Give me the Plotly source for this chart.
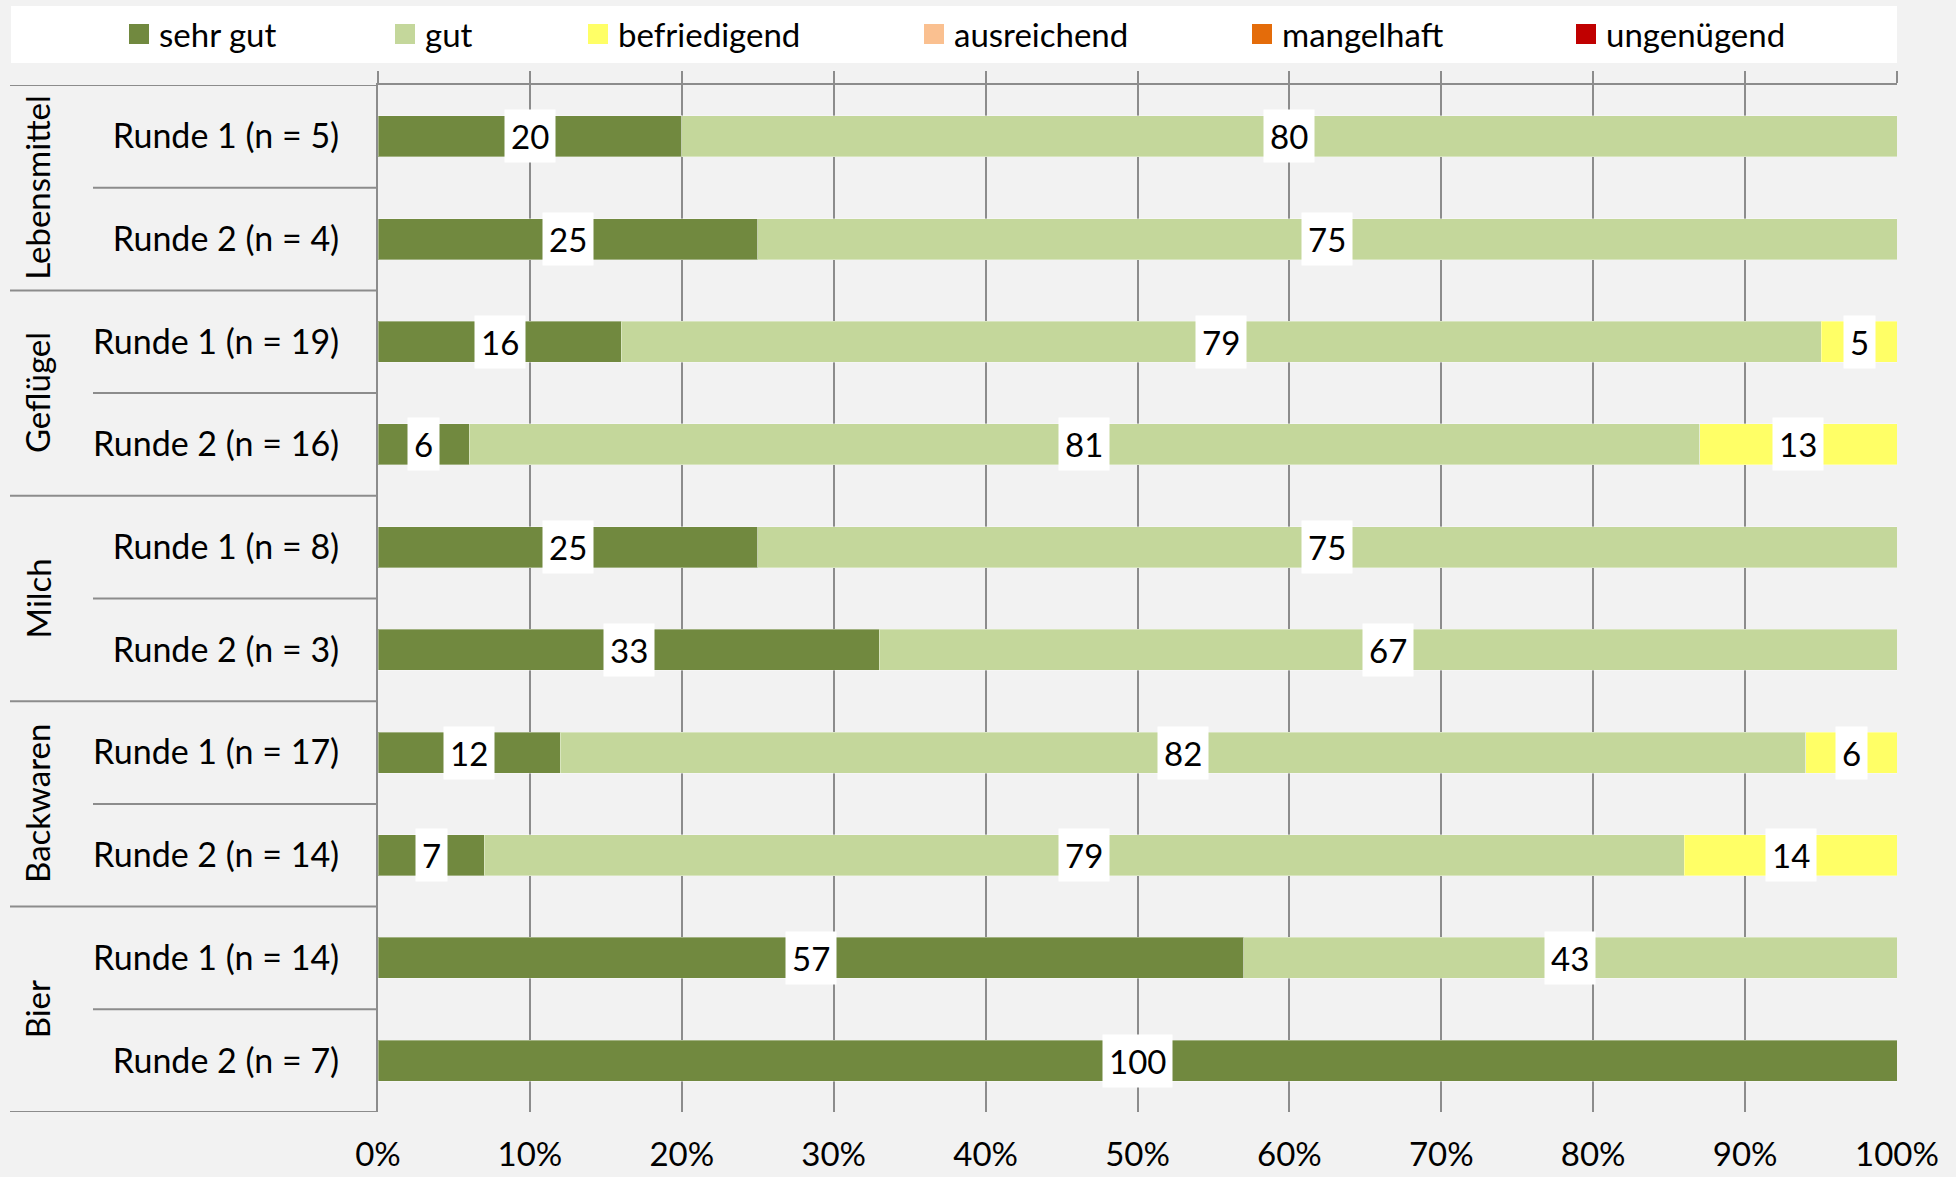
import plotly.graph_objects as go

# ---- data -------------------------------------------------------------
groups = ["Lebensmittel", "Geflügel", "Milch", "Backwaren", "Bier"]
row_labels = [
    "Runde 1 (n = 5)", "Runde 2 (n = 4)",
    "Runde 1 (n = 19)", "Runde 2 (n = 16)",
    "Runde 1 (n = 8)", "Runde 2 (n = 3)",
    "Runde 1 (n = 17)", "Runde 2 (n = 14)",
    "Runde 1 (n = 14)", "Runde 2 (n = 7)",
]
row_group = [0, 0, 1, 1, 2, 2, 3, 3, 4, 4]

grades = ["sehr gut", "gut", "befriedigend", "ausreichend", "mangelhaft", "ungenügend"]
sehr_gut = [20, 25, 16, 6, 25, 33, 12, 7, 57, 100]
gut = [80, 75, 79, 81, 75, 67, 82, 79, 43, 0]
befriedigend = [0, 0, 5, 13, 0, 0, 6, 14, 0, 0]
ausreichend = [0, 0, 0, 0, 0, 0, 0, 0, 0, 0]
mangelhaft = [0, 0, 0, 0, 0, 0, 0, 0, 0, 0]
ungenuegend = [0, 0, 0, 0, 0, 0, 0, 0, 0, 0]
series = [sehr_gut, gut, befriedigend, ausreichend, mangelhaft, ungenuegend]

x_ticks = [0, 10, 20, 30, 40, 50, 60, 70, 80, 90, 100]

# ---- styling ----------------------------------------------------------
colors = ["#71893F", "#C4D79B", "#FFFF66", "#FAC090", "#E46C0A", "#C00000"]
BG = "#F2F2F2"
GRID = "#8C8C8C"
FONT = "Lato, 'Open Sans', sans-serif"
FS = 33

W, H = 1956, 1177
ML, MR, MT, MB = 378, 59, 85, 65
PW, PH = W - ML - MR, H - MT - MB


def px_x(px):
    """pixel column -> paper x"""
    return (px - ML) / PW


def px_y(py):
    """pixel row -> paper y"""
    return (H - MB - py) / PH


rows = list(range(len(row_labels)))

fig = go.Figure()

# stacked bars
for name, vals, col in zip(grades, series, colors):
    fig.add_trace(go.Bar(
        y=rows, x=vals, orientation="h", name=name,
        marker=dict(color=col, line=dict(color="rgba(255,255,255,0.35)", width=1)),
        width=0.4, showlegend=False, hoverinfo="x+name",
    ))

# legend entries, one legend per grade so each sits where it belongs
legend_left_px = [119, 385, 578, 914, 1242, 1566]
layout_legends = {}
for k, (name, col) in enumerate(zip(grades, colors)):
    key = "legend" if k == 0 else f"legend{k + 1}"
    fig.add_trace(go.Scatter(
        x=[None], y=[None], mode="markers", name=name,
        marker=dict(symbol="square", size=16, color=col, line=dict(color=col, width=4)),
        xaxis="x2", legend=key, showlegend=True,
    ))
    layout_legends[key] = dict(
        x=px_x(legend_left_px[k]), y=px_y(34), xanchor="left", yanchor="middle",
        orientation="h", bgcolor="rgba(0,0,0,0)", borderwidth=0,
        font=dict(family=FONT, size=FS, color="black"), itemwidth=30,
    )

# value labels in white boxes, centred in each segment
annotations = []
for r in rows:
    start = 0
    for vals in series:
        v = vals[r]
        if v > 0:
            annotations.append(dict(
                x=start + v / 2, y=r, xref="x", yref="y", text=str(v),
                showarrow=False, bgcolor="white", borderpad=6,
                xanchor="center", yanchor="middle",
                font=dict(family=FONT, size=FS, color="black"),
            ))
        start += v

# rotated group labels
for g, gname in enumerate(groups):
    members = [r for r in rows if row_group[r] == g]
    annotations.append(dict(
        x=px_x(37), y=sum(members) / len(members), xref="paper", yref="y",
        xanchor="center", yanchor="middle",
        text=gname, textangle=-90, showarrow=False,
        font=dict(family=FONT, size=FS, color="black"),
    ))

# separator lines in the label column
shapes = []
for i in range(len(rows) + 1):
    outer = i == 0 or i == len(rows) or row_group[i] != row_group[i - 1]
    shapes.append(dict(
        type="line", xref="paper", yref="y",
        x0=px_x(10 if outer else 93), x1=0, y0=i - 0.5, y1=i - 0.5,
        line=dict(color=GRID, width=2),
    ))

# white legend band
shapes.append(dict(
    type="rect", xref="paper", yref="paper", layer="below",
    x0=px_x(11), x1=px_x(1897), y0=px_y(63), y1=px_y(6),
    fillcolor="white", line=dict(width=0),
))

fig.update_layout(
    width=W, height=H,
    margin=dict(l=ML, r=MR, t=MT, b=MB, pad=0, autoexpand=False),
    paper_bgcolor=BG, plot_bgcolor="rgba(0,0,0,0)",
    barmode="stack", bargap=0.6,
    font=dict(family=FONT, size=FS, color="black"),
    xaxis=dict(
        range=[0, 100], tickvals=x_ticks, ticktext=[f"{v}%" for v in x_ticks],
        showgrid=True, gridcolor=GRID, gridwidth=2, zeroline=False,
        showline=False, ticks="", ticklabelstandoff=20, automargin=False,
        tickfont=dict(family=FONT, size=FS, color="black"), fixedrange=True,
    ),
    xaxis2=dict(
        overlaying="x", side="top", matches="x", range=[0, 100], tickvals=x_ticks,
        showticklabels=False, ticks="outside", ticklen=12, tickwidth=2, tickcolor=GRID,
        showline=True, linecolor=GRID, linewidth=2, showgrid=False, zeroline=False,
        automargin=False,
    ),
    yaxis=dict(
        range=[len(rows) - 0.5, -0.5], tickvals=rows, ticktext=row_labels,
        showgrid=False, zeroline=False, showline=True, linecolor=GRID, linewidth=2,
        ticks="", ticklabelstandoff=30, automargin=False,
        tickfont=dict(family=FONT, size=34, color="black"), fixedrange=True,
    ),
    annotations=annotations,
    shapes=shapes,
    **layout_legends,
)

fig.write_html("out.html")
